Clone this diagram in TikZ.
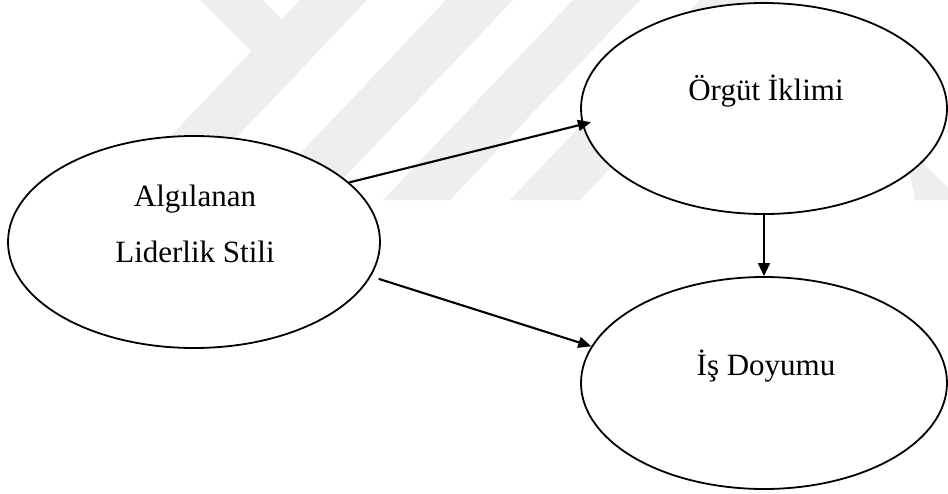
\documentclass[tikz,border=0pt]{standalone}
\usepackage{fontspec}
\setmainfont{Liberation Serif}
\usetikzlibrary{shapes.geometric,arrows.meta}
\definecolor{wm}{RGB}{238,238,238}
\tikzset{
  bubble/.style={ellipse, draw=black, line width=1.8pt, fill=white, inner sep=0pt},
  lbl/.style={anchor=base, inner sep=0pt, font=\fontsize{31}{37}\selectfont},
  link/.style={draw=black, line width=2.1pt, -{Triangle[length=13pt,width=11pt]}},
  vlink/.style={draw=black, line width=1.6pt, -{Triangle[length=13pt,width=12pt]}}
}
\begin{document}
\begin{tikzpicture}[x=1pt,y=-1pt]
\useasboundingbox (0,0) rectangle (948,493);
\fill[white] (0,0) rectangle (948,493);
% faint watermark
\fill[wm] (200,0) -- (262,0) -- (281.5,19.5) -- (300,0) -- (367,0) -- (177,200) -- (110,200) -- (251.3,51.3) -- cycle;
\fill[wm] (446,0) -- (513,0) -- (323,200) -- (256,200) -- cycle;
\fill[wm] (573,0) -- (640,0) -- (450,200) -- (383,200) -- cycle;
\fill[wm] (700,0) -- (770,0) -- (580,200) -- (510,200) -- cycle;
\fill[wm] (905,145) -- (948,188) -- (948,200) -- (915,200) -- cycle;
% ellipses
\node[bubble, minimum width=372pt, minimum height=212pt] (L) at (194,242) {};
\node[bubble, minimum width=366pt, minimum height=211pt] (O) at (764,108.5) {};
\node[bubble, minimum width=366pt, minimum height=212pt] (I) at (764,383) {};
% labels
\node[lbl] (Lt1) at (195,206) {Algılanan};
\node[lbl] (Lt2) at (195,262) {Liderlik Stili};
\node[lbl] (Ot) at (766,100) {Örgüt İklimi};
\node[lbl] (It) at (766,375) {İş Doyumu};
% connectors
\draw[link, shorten >=-9pt] (L.21) -- (O.185);
\draw[link, shorten <=8pt] (L.349) -- (I.168);
\draw[vlink] (O.south) -- (I.north);
\end{tikzpicture}
\end{document}
